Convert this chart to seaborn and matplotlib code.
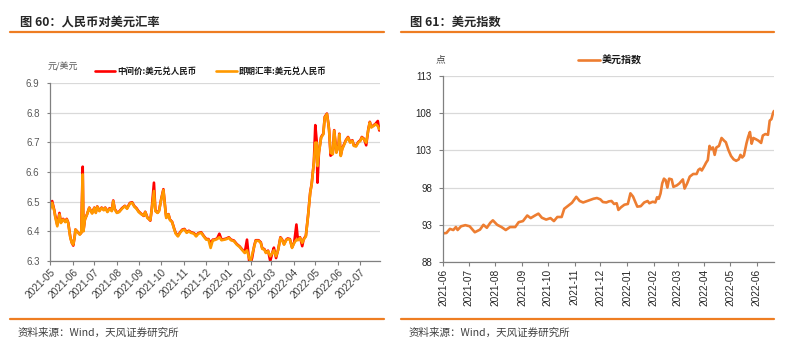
import matplotlib
matplotlib.use('Agg')
import matplotlib.pyplot as plt
import matplotlib.dates as mdates
from matplotlib.lines import Line2D
import seaborn as sns
import pandas as pd

# ---------------- data: left chart (USD/CNY) ----------------
cny_dates = [
    "2021-05-01", "2021-05-04", "2021-05-07", "2021-05-08", "2021-05-11", "2021-05-14", "2021-05-16",
    "2021-05-19", "2021-05-22", "2021-05-24", "2021-05-26", "2021-05-29", "2021-05-31", "2021-06-02",
    "2021-06-04", "2021-06-05", "2021-06-08", "2021-06-11", "2021-06-13", "2021-06-15", "2021-06-16",
    "2021-06-18", "2021-06-21", "2021-06-24", "2021-06-26", "2021-06-28", "2021-07-01", "2021-07-03",
    "2021-07-05", "2021-07-08", "2021-07-11", "2021-07-14", "2021-07-16", "2021-07-19", "2021-07-22",
    "2021-07-25", "2021-07-27", "2021-07-29", "2021-08-01", "2021-08-04", "2021-08-08", "2021-08-12",
    "2021-08-15", "2021-08-19", "2021-08-22", "2021-08-25", "2021-08-28", "2021-08-31", "2021-09-04",
    "2021-09-07", "2021-09-09", "2021-09-12", "2021-09-16", "2021-09-18", "2021-09-21", "2021-09-23",
    "2021-09-26", "2021-09-28", "2021-10-01", "2021-10-04", "2021-10-07", "2021-10-08", "2021-10-11",
    "2021-10-13", "2021-10-16", "2021-10-19", "2021-10-21", "2021-10-24", "2021-10-27", "2021-10-30",
    "2021-11-02", "2021-11-05", "2021-11-08", "2021-11-11", "2021-11-15", "2021-11-18", "2021-11-21",
    "2021-11-25", "2021-11-29", "2021-12-02", "2021-12-05", "2021-12-08", "2021-12-11", "2021-12-13",
    "2021-12-17", "2021-12-20", "2021-12-23", "2021-12-27", "2021-12-30", "2022-01-02", "2022-01-05",
    "2022-01-09", "2022-01-13", "2022-01-17", "2022-01-20", "2022-01-24", "2022-01-27", "2022-01-30",
    "2022-02-01", "2022-02-03", "2022-02-06", "2022-02-08", "2022-02-12", "2022-02-15", "2022-02-17",
    "2022-02-20", "2022-02-22", "2022-02-25", "2022-02-28", "2022-03-03", "2022-03-05", "2022-03-08",
    "2022-03-11", "2022-03-14", "2022-03-16", "2022-03-19", "2022-03-22", "2022-03-24", "2022-03-27",
    "2022-03-30", "2022-04-02", "2022-04-05", "2022-04-07", "2022-04-10", "2022-04-13", "2022-04-15",
    "2022-04-18", "2022-04-21", "2022-04-24", "2022-04-26", "2022-04-29", "2022-05-01", "2022-05-03",
    "2022-05-04", "2022-05-06", "2022-05-09", "2022-05-12", "2022-05-14", "2022-05-17", "2022-05-19",
    "2022-05-20", "2022-05-22", "2022-05-25", "2022-05-27", "2022-05-30", "2022-06-02", "2022-06-03",
    "2022-06-05", "2022-06-07", "2022-06-10", "2022-06-12", "2022-06-15", "2022-06-18", "2022-06-21",
    "2022-06-23", "2022-06-26", "2022-06-29", "2022-07-02", "2022-07-04", "2022-07-07", "2022-07-10",
    "2022-07-13", "2022-07-15", "2022-07-17", "2022-07-20", "2022-07-23", "2022-07-26", "2022-07-28",
]
cny_spot = [
    6.474, 6.496, 6.468, 6.451, 6.417, 6.457, 6.428,
    6.440, 6.431, 6.440, 6.428, 6.378, 6.361, 6.355,
    6.383, 6.406, 6.397, 6.389, 6.395, 6.592, 6.400,
    6.440, 6.457, 6.479, 6.468, 6.460, 6.479, 6.462,
    6.483, 6.468, 6.479, 6.471, 6.479, 6.465, 6.476,
    6.468, 6.502, 6.474, 6.462, 6.465, 6.476, 6.485,
    6.476, 6.494, 6.496, 6.483, 6.476, 6.465, 6.457,
    6.453, 6.465, 6.445, 6.438, 6.474, 6.536, 6.468,
    6.462, 6.468, 6.507, 6.539, 6.465, 6.445, 6.457,
    6.438, 6.431, 6.406, 6.392, 6.383, 6.395, 6.404,
    6.406, 6.395, 6.400, 6.395, 6.392, 6.383, 6.392,
    6.395, 6.381, 6.372, 6.372, 6.344, 6.370, 6.370,
    6.374, 6.380, 6.370, 6.372, 6.374, 6.378, 6.370,
    6.367, 6.355, 6.347, 6.338, 6.327, 6.336, 6.310,
    6.300, 6.321, 6.350, 6.368, 6.368, 6.361, 6.341,
    6.338, 6.327, 6.333, 6.316, 6.327, 6.336, 6.316,
    6.338, 6.378, 6.372, 6.355, 6.370, 6.374, 6.372,
    6.344, 6.361, 6.372, 6.370, 6.378, 6.361, 6.372,
    6.383, 6.451, 6.530, 6.558, 6.631, 6.699, 6.699,
    6.620, 6.665, 6.716, 6.727, 6.784, 6.795, 6.761,
    6.739, 6.665, 6.660, 6.739, 6.665, 6.688, 6.727,
    6.654, 6.677, 6.694, 6.705, 6.716, 6.699, 6.705,
    6.688, 6.686, 6.699, 6.705, 6.716, 6.710, 6.699,
    6.744, 6.767, 6.750, 6.755, 6.761, 6.755, 6.744,
]
cny_mid = [
    6.480, 6.502, 6.470, 6.455, 6.422, 6.462, 6.430,
    6.442, 6.433, 6.442, 6.430, 6.380, 6.362, 6.352,
    6.383, 6.406, 6.398, 6.390, 6.395, 6.618, 6.402,
    6.440, 6.458, 6.480, 6.470, 6.462, 6.480, 6.464,
    6.484, 6.470, 6.480, 6.473, 6.480, 6.467, 6.478,
    6.470, 6.504, 6.476, 6.464, 6.466, 6.478, 6.486,
    6.478, 6.496, 6.498, 6.485, 6.478, 6.467, 6.458,
    6.452, 6.466, 6.447, 6.436, 6.476, 6.564, 6.470,
    6.463, 6.470, 6.509, 6.542, 6.467, 6.446, 6.458,
    6.440, 6.432, 6.408, 6.394, 6.385, 6.397, 6.406,
    6.408, 6.397, 6.402, 6.397, 6.394, 6.385, 6.394,
    6.397, 6.383, 6.374, 6.374, 6.360, 6.372, 6.372,
    6.376, 6.392, 6.372, 6.374, 6.376, 6.380, 6.372,
    6.369, 6.357, 6.349, 6.340, 6.329, 6.372, 6.300,
    6.293, 6.310, 6.352, 6.370, 6.370, 6.363, 6.343,
    6.340, 6.329, 6.335, 6.300, 6.329, 6.345, 6.310,
    6.340, 6.380, 6.374, 6.357, 6.372, 6.376, 6.374,
    6.346, 6.363, 6.423, 6.372, 6.380, 6.350, 6.374,
    6.385, 6.453, 6.532, 6.560, 6.633, 6.758, 6.701,
    6.564, 6.667, 6.718, 6.729, 6.786, 6.797, 6.763,
    6.741, 6.655, 6.662, 6.741, 6.667, 6.690, 6.729,
    6.656, 6.679, 6.696, 6.707, 6.718, 6.701, 6.707,
    6.690, 6.688, 6.701, 6.707, 6.718, 6.712, 6.690,
    6.746, 6.769, 6.752, 6.757, 6.763, 6.772, 6.740,
]

# ---------------- data: right chart (US dollar index) ----------------
dxy_dates = [
    "2021-06-01", "2021-06-05", "2021-06-09", "2021-06-13", "2021-06-16", "2021-06-18", "2021-06-22",
    "2021-06-27", "2021-07-02", "2021-07-08", "2021-07-14", "2021-07-18", "2021-07-22", "2021-07-26",
    "2021-07-29", "2021-08-03", "2021-08-08", "2021-08-13", "2021-08-18", "2021-08-24", "2021-08-28",
    "2021-09-02", "2021-09-07", "2021-09-11", "2021-09-16", "2021-09-20", "2021-09-24", "2021-09-29",
    "2021-10-04", "2021-10-08", "2021-10-12", "2021-10-17", "2021-10-20", "2021-10-25", "2021-10-29",
    "2021-11-03", "2021-11-07", "2021-11-11", "2021-11-17", "2021-11-23", "2021-11-27", "2021-12-01",
    "2021-12-04", "2021-12-08", "2021-12-11", "2021-12-14", "2021-12-17", "2021-12-20", "2021-12-22",
    "2021-12-25", "2021-12-29", "2022-01-02", "2022-01-05", "2022-01-08", "2022-01-13", "2022-01-17",
    "2022-01-21", "2022-01-25", "2022-01-27", "2022-01-31", "2022-02-03", "2022-02-05", "2022-02-07",
    "2022-02-09", "2022-02-11", "2022-02-13", "2022-02-15", "2022-02-17", "2022-02-19", "2022-02-22",
    "2022-02-24", "2022-02-28", "2022-03-03", "2022-03-07", "2022-03-09", "2022-03-12", "2022-03-15",
    "2022-03-19", "2022-03-23", "2022-03-25", "2022-03-27", "2022-03-29", "2022-04-01", "2022-04-03",
    "2022-04-05", "2022-04-07", "2022-04-09", "2022-04-11", "2022-04-13", "2022-04-15", "2022-04-18",
    "2022-04-21", "2022-04-24", "2022-04-26", "2022-04-29", "2022-05-02", "2022-05-05", "2022-05-08",
    "2022-05-11", "2022-05-13", "2022-05-15", "2022-05-17", "2022-05-20", "2022-05-22", "2022-05-24",
    "2022-05-26", "2022-05-28", "2022-05-31", "2022-06-03", "2022-06-06", "2022-06-08", "2022-06-11",
    "2022-06-14", "2022-06-16", "2022-06-18", "2022-06-20", "2022-06-21",
]
dxy_values = [
    91.85, 91.90, 92.45, 92.30, 92.70, 92.30, 92.80,
    92.95, 92.80, 92.00, 92.35, 93.00, 92.60, 93.27,
    93.60, 93.00, 92.70, 92.30, 92.70, 92.70, 93.35,
    93.50, 94.25, 93.90, 94.25, 94.50, 93.95, 93.70,
    93.90, 93.50, 94.05, 94.05, 95.15, 95.60, 95.96,
    96.76, 96.20, 96.00, 96.25, 96.50, 96.60, 96.42,
    96.06, 96.00, 96.15, 96.20, 95.80, 95.90, 95.00,
    95.35, 95.70, 95.80, 97.23, 96.80, 95.44, 95.50,
    96.00, 96.20, 95.90, 96.10, 96.00, 96.70, 96.50,
    97.20, 98.57, 99.20, 99.00, 98.00, 99.20, 99.10,
    98.10, 98.30, 98.57, 99.10, 97.87, 98.57, 99.47,
    99.83, 99.83, 100.37, 100.55, 100.30, 100.90, 101.35,
    101.70, 103.60, 103.15, 103.40, 102.40, 103.40, 103.60,
    104.67, 104.30, 104.10, 103.05, 102.25, 101.80, 101.60,
    101.80, 102.40, 102.05, 102.30, 103.95, 104.84, 105.47,
    103.90, 104.67, 104.50, 104.30, 104.00, 105.00, 105.20,
    105.10, 107.00, 107.20, 108.07, 108.30,
]

left_ticks = ["2021-05", "2021-06", "2021-07", "2021-08", "2021-09", "2021-10", "2021-11",
              "2021-12", "2022-01", "2022-02", "2022-03", "2022-04", "2022-05", "2022-06", "2022-07"]
right_ticks = ["2021-06", "2021-07", "2021-08", "2021-09", "2021-10", "2021-11", "2021-12",
               "2022-01", "2022-02", "2022-03", "2022-04", "2022-05", "2022-06"]
left_yticks = [6.3, 6.4, 6.5, 6.6, 6.7, 6.8, 6.9]
right_yticks = [88, 93, 98, 103, 108, 113]

# ---------------- styling ----------------
sns.set_theme(style="white")
plt.rcParams['font.family'] = ['Noto Sans CJK SC', 'DejaVu Sans']
plt.rcParams['axes.unicode_minus'] = False

RULE = '#EE7D22'
GRID = '#D9D9D9'
SPINE = '#808080'
NUMFONT = ['Liberation Sans', 'Noto Sans CJK SC']

fig = plt.figure(figsize=(7.99, 3.48), dpi=100)

def add_rule(x0, x1, y):
    fig.add_artist(Line2D([x0 / 799, x1 / 799], [1 - y / 348, 1 - y / 348],
                          transform=fig.transFigure, color=RULE, lw=1.6))

# titles & rules
fig.text(20 / 799, 1 - 22 / 348, "图 60：人民币对美元汇率", fontsize=8.8, fontweight='bold',
         color='#262626', va='center', ha='left')
fig.text(410 / 799, 1 - 22 / 348, "图 61：美元指数", fontsize=8.8, fontweight='bold',
         color='#262626', va='center', ha='left')
add_rule(10, 384, 32)
add_rule(401, 774, 32)
add_rule(10, 384, 319)
add_rule(401, 774, 319)
fig.text(18 / 799, 1 - 333 / 348, "资料来源：Wind，天风证券研究所", fontsize=7.6,
         color='#404040', va='center', ha='left')
fig.text(409 / 799, 1 - 333 / 348, "资料来源：Wind，天风证券研究所", fontsize=7.6,
         color='#404040', va='center', ha='left')

# ---------- left chart ----------
ax1 = fig.add_axes([50 / 799, 1 - 261 / 348, 330 / 799, 178 / 348])
df1 = pd.DataFrame({
    'date': pd.to_datetime(cny_dates),
    'mid': cny_mid,
    'spot': cny_spot,
})
sns.lineplot(data=df1, x='date', y='mid', ax=ax1, color='#FF0000', lw=1.9,
             label='中间价:美元兑人民币')
sns.lineplot(data=df1, x='date', y='spot', ax=ax1, color='#FF9900', lw=1.9,
             label='即期汇率:美元兑人民币')
ax1.set_ylim(6.3, 6.9)
ax1.set_yticks(left_yticks)
ax1.set_yticklabels([f"{v:.1f}" for v in left_yticks])
ax1.set_xlim(pd.Timestamp("2021-05-01"), pd.Timestamp("2022-07-29"))
lt = pd.to_datetime([t + "-01" for t in left_ticks])
ax1.set_xticks(lt)
ax1.set_xticklabels(left_ticks, rotation=45, ha='right', rotation_mode='anchor')
ax1.set_xlabel('')
ax1.set_ylabel('')
ax1.grid(axis='y', color=GRID, lw=0.9)
ax1.set_axisbelow(True)
for s in ['top', 'right']:
    ax1.spines[s].set_visible(False)
for s in ['left', 'bottom']:
    ax1.spines[s].set_color(SPINE)
    ax1.spines[s].set_linewidth(0.9)
ax1.tick_params(axis='y', left=True, length=2.5, width=0.8, color=SPINE, pad=5,
                labelsize=7, labelcolor='#595959')
ax1.tick_params(axis='x', bottom=True, length=2.8, width=0.8, color=SPINE, pad=1.5,
                labelsize=7.3, labelcolor='#404040')
for lab in ax1.get_xticklabels() + ax1.get_yticklabels():
    lab.set_family(NUMFONT)
leg1 = ax1.legend(ncol=2, loc='center left', bbox_to_anchor=(95 / 799, 1 - 71.5 / 348),
                  bbox_transform=fig.transFigure, frameon=False, fontsize=6.1,
                  handlelength=2.4, handletextpad=0.25, columnspacing=2.3,
                  borderpad=0, borderaxespad=0)
for t in leg1.get_texts():
    t.set_fontweight('bold')
    t.set_color('#1a1a1a')
fig.text(48 / 799, 1 - 67 / 348, "元/美元", fontsize=6.5, color='#595959',
         va='center', ha='left')

# ---------- right chart ----------
ax2 = fig.add_axes([443 / 799, 1 - 262 / 348, 331 / 799, 186 / 348])
df2 = pd.DataFrame({'date': pd.to_datetime(dxy_dates), 'value': dxy_values})
sns.lineplot(data=df2, x='date', y='value', ax=ax2, color='#ED7D31', lw=1.9,
             label='美元指数')
ax2.set_ylim(88, 113)
ax2.set_yticks(right_yticks)
ax2.set_yticklabels([str(v) for v in right_yticks])
ax2.set_xlim(pd.Timestamp("2021-06-01"), pd.Timestamp("2022-06-21"))
rt = pd.to_datetime([t + "-01" for t in right_ticks])
ax2.set_xticks(rt)
ax2.set_xticklabels(right_ticks, rotation=90, ha='center', va='top')
ax2.set_xlabel('')
ax2.set_ylabel('')
ax2.grid(axis='y', color=GRID, lw=0.9)
ax2.set_axisbelow(True)
for s in ['top', 'right']:
    ax2.spines[s].set_visible(False)
for s in ['left', 'bottom']:
    ax2.spines[s].set_color(SPINE)
    ax2.spines[s].set_linewidth(0.9)
ax2.tick_params(axis='y', left=True, length=3, width=0.8, color=SPINE, pad=5,
                labelsize=7, labelcolor='#262626')
ax2.tick_params(axis='x', bottom=True, length=3, width=0.8, color=SPINE, pad=2,
                labelsize=7.3, labelcolor='#262626')
for lab in ax2.get_xticklabels() + ax2.get_yticklabels():
    lab.set_family(NUMFONT)
leg2 = ax2.legend(loc='center left', bbox_to_anchor=(578 / 799, 1 - 60.7 / 348),
                  bbox_transform=fig.transFigure, frameon=False, fontsize=7.2,
                  handlelength=2.2, handletextpad=0.15, borderpad=0, borderaxespad=0)
for t in leg2.get_texts():
    t.set_fontweight('bold')
    t.set_color('#1a1a1a')
fig.text(436 / 799, 1 - 59 / 348, "点", fontsize=7, color='#404040',
         va='center', ha='left')

fig.savefig('out.png', dpi=100)
